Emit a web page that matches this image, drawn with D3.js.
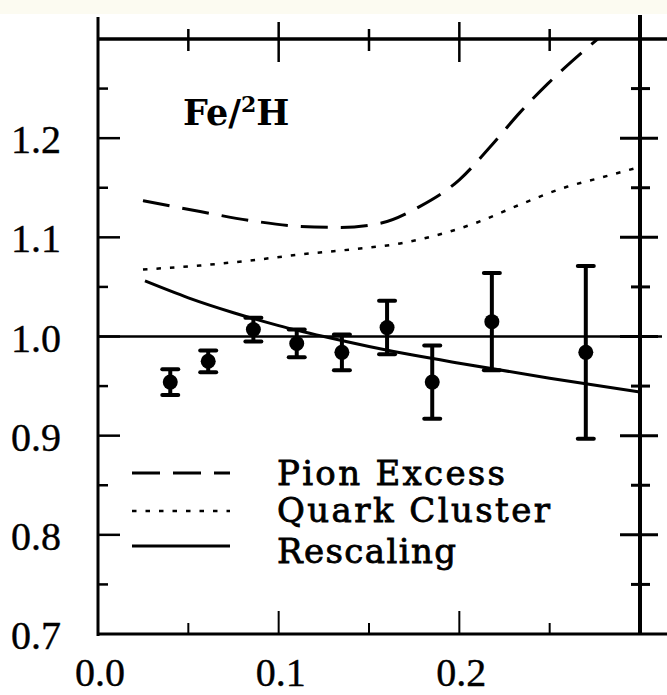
<!DOCTYPE html>
<html>
<head>
<meta charset="utf-8">
<script src="https://cdn.jsdelivr.net/npm/d3@7"></script>
<style>
  html, body { margin: 0; padding: 0; background: #ffffff; }
  svg { display: block; }
</style>
</head>
<body>
<svg id="chart" width="667" height="695"></svg>
<script>
// Fe/2H structure-function ratio versus x, with three model curves.

// Measured points
const xData  = [0.040, 0.061, 0.086, 0.110, 0.135, 0.160, 0.185, 0.218, 0.270];
const ratio  = [0.954, 0.975, 1.007, 0.993, 0.984, 1.009, 0.954, 1.015, 0.984];
const errBar = [0.013, 0.011, 0.012, 0.014, 0.018, 0.027, 0.037, 0.049, 0.087];

// Model curves
const pionX  = [0.0249, 0.0565, 0.0841, 0.1118, 0.134, 0.156, 0.178, 0.200, 0.217, 0.2336, 0.249, 0.2657, 0.2779];
const pionY  = [1.137, 1.126, 1.117, 1.111, 1.110, 1.114, 1.131, 1.158, 1.191, 1.226, 1.255, 1.283, 1.302];

const quarkX = [0.0249, 0.0565, 0.0841, 0.1118, 0.1395, 0.1672, 0.1948, 0.2098, 0.2336, 0.2596, 0.2779, 0.300];
const quarkY = [1.0676, 1.0716, 1.0766, 1.0827, 1.0877, 1.0938, 1.1059, 1.115, 1.133, 1.151, 1.160, 1.171];

const rescX  = [0.026, 0.050, 0.075, 0.100, 0.125, 0.150, 0.175, 0.200, 0.250, 0.300];
const rescY  = [1.056, 1.039, 1.024, 1.011, 1.000, 0.990, 0.981, 0.973, 0.958, 0.944];

// Axis ticks
const xMajor = [0.0, 0.1, 0.2];
const xLabels = ["0.0", "0.1", "0.2"];
const xMinor = [0.05, 0.15, 0.25];
const yMajor = [0.7, 0.8, 0.9, 1.0, 1.1, 1.2];
const yLabels = ["0.7", "0.8", "0.9", "1.0", "1.1", "1.2"];
const yMinor = [0.75, 0.85, 0.95, 1.05, 1.15, 1.25];

const legendNames = ["Pion Excess", "Quark Cluster", "Rescaling"];
const titleMain = ["Fe/", "2", "H"];

const svg = d3.select("#chart");
const x = d3.scaleLinear().domain([0, 0.3]).range([98, 640]);
const y = d3.scaleLinear().domain([0.7, 1.3]).range([634, 39]);

const ink = "#000000";
const serif = "'DejaVu Serif', serif";
const numFont = "'Liberation Serif', 'Times New Roman', serif";

// faint paper strip along the top edge
svg.append("rect").attr("x", 0).attr("y", 0).attr("width", 667).attr("height", 14)
   .attr("fill", "#fcfbf1");

svg.append("defs").append("clipPath").attr("id", "plotClip")
   .append("rect")
   .attr("x", x(0)).attr("y", y(1.3))
   .attr("width", x(0.3) - x(0)).attr("height", y(0.7) - y(1.3));

const frame = svg.append("g").attr("stroke", ink).attr("stroke-linecap", "butt");

// frame lines
frame.append("line").attr("x1", x(0)).attr("x2", 667).attr("y1", y(1.3)).attr("y2", y(1.3)).attr("stroke-width", 3.5);
frame.append("line").attr("x1", x(0) - 1).attr("x2", 667).attr("y1", y(0.7)).attr("y2", y(0.7)).attr("stroke-width", 3);
frame.append("line").attr("x1", x(0)).attr("x2", x(0)).attr("y1", 17).attr("y2", y(0.7) + 2).attr("stroke-width", 3);
frame.append("line").attr("x1", x(0.3)).attr("x2", x(0.3)).attr("y1", 15).attr("y2", y(0.7)).attr("stroke-width", 4);

// top ticks cross the axis, bottom ticks point inward
xMajor.filter(v => v > 0).forEach(v => {
  frame.append("line").attr("x1", x(v)).attr("x2", x(v)).attr("y1", y(1.3) - 17).attr("y2", y(1.3) + 23).attr("stroke-width", 2.5);
  frame.append("line").attr("x1", x(v)).attr("x2", x(v)).attr("y1", y(0.7)).attr("y2", y(0.7) - 23).attr("stroke-width", 2);
});
xMinor.forEach(v => {
  frame.append("line").attr("x1", x(v)).attr("x2", x(v)).attr("y1", y(1.3) - 10).attr("y2", y(1.3) + 12).attr("stroke-width", 2.5);
  frame.append("line").attr("x1", x(v)).attr("x2", x(v)).attr("y1", y(0.7)).attr("y2", y(0.7) - 11).attr("stroke-width", 2);
});

// left ticks point inward, right ticks cross the axis
yMajor.filter(v => v > 0.7).forEach(v => {
  frame.append("line").attr("x1", x(0)).attr("x2", x(0) + 22).attr("y1", y(v)).attr("y2", y(v)).attr("stroke-width", 2.5);
  frame.append("line").attr("x1", x(0.3) - 20).attr("x2", x(0.3) + 18).attr("y1", y(v)).attr("y2", y(v)).attr("stroke-width", 3);
});
yMinor.forEach(v => {
  frame.append("line").attr("x1", x(0)).attr("x2", x(0) + 10).attr("y1", y(v)).attr("y2", y(v)).attr("stroke-width", 2.5);
  frame.append("line").attr("x1", x(0.3) - 9).attr("x2", x(0.3) + 10).attr("y1", y(v)).attr("y2", y(v)).attr("stroke-width", 3);
});

// tick labels
svg.append("g").selectAll("text").data(xMajor).join("text")
   .attr("x", d => x(d) + 2).attr("y", 686)
   .attr("text-anchor", "middle")
   .attr("font-family", numFont).attr("font-size", 40).attr("fill", ink)
   .attr("stroke", ink).attr("stroke-width", 0.4)
   .text((d, i) => xLabels[i]);

svg.append("g").selectAll("text").data(yMajor).join("text")
   .attr("x", 61).attr("y", d => y(d) + 15)
   .attr("text-anchor", "end")
   .attr("font-family", numFont).attr("font-size", 40).attr("fill", ink)
   .attr("stroke", ink).attr("stroke-width", 0.4)
   .text((d, i) => yLabels[i]);

// reference line at unity, running out past the right axis
svg.append("line").attr("x1", x(0)).attr("x2", 662).attr("y1", y(1.0)).attr("y2", y(1.0))
   .attr("stroke", ink).attr("stroke-width", 2.5);

const plot = svg.append("g").attr("clip-path", "url(#plotClip)");
const curve = (xs, ys) => d3.line().curve(d3.curveMonotoneX)
   .x(i => x(xs[i])).y(i => y(ys[i]))(d3.range(xs.length));

plot.append("path").attr("d", curve(pionX, pionY))
   .attr("fill", "none").attr("stroke", ink).attr("stroke-width", 3)
   .attr("stroke-dasharray", "27,13");
plot.append("path").attr("d", curve(quarkX, quarkY))
   .attr("fill", "none").attr("stroke", ink).attr("stroke-width", 2.5)
   .attr("stroke-dasharray", "4.5,9");
plot.append("path").attr("d", curve(rescX, rescY))
   .attr("fill", "none").attr("stroke", ink).attr("stroke-width", 3);

// data points with error bars
const pts = svg.append("g").selectAll("g").data(d3.range(xData.length)).join("g");
pts.append("line")
   .attr("x1", i => x(xData[i])).attr("x2", i => x(xData[i]))
   .attr("y1", i => y(ratio[i] + errBar[i])).attr("y2", i => y(ratio[i] - errBar[i]))
   .attr("stroke", ink).attr("stroke-width", 4);
[1, -1].forEach(s => {
  pts.append("line")
     .attr("x1", i => x(xData[i]) - 8).attr("x2", i => x(xData[i]) + 8)
     .attr("y1", i => y(ratio[i] + s * errBar[i])).attr("y2", i => y(ratio[i] + s * errBar[i]))
     .attr("stroke", ink).attr("stroke-width", 4).attr("stroke-linecap", "round");
});
pts.append("circle")
   .attr("cx", i => x(xData[i])).attr("cy", i => y(ratio[i]))
   .attr("r", 7.5).attr("fill", ink);

// label in upper left
const title = svg.append("text").attr("x", 183).attr("y", 125)
   .attr("font-family", serif).attr("font-size", 35).attr("font-weight", "bold").attr("fill", ink);
title.append("tspan").text(titleMain[0]);
title.append("tspan").attr("font-size", 22).attr("dy", -13).text(titleMain[1]);
title.append("tspan").attr("dy", 13).text(titleMain[2]);

// legend
const legY = [473, 511, 546];
const legBase = [485, 522, 563];
const legLen = [228, 273, 179];
const legDash = ["28,13", "4.5,9", null];
const legW = [3, 2.5, 3];
legendNames.forEach((name, i) => {
  const ln = svg.append("line").attr("x1", 132).attr("x2", 230)
     .attr("y1", legY[i]).attr("y2", legY[i])
     .attr("stroke", ink).attr("stroke-width", legW[i]);
  if (legDash[i]) ln.attr("stroke-dasharray", legDash[i]);
  svg.append("text").attr("x", 277).attr("y", legBase[i])
     .attr("font-family", serif).attr("font-size", 34).attr("fill", ink)
     .attr("stroke", ink).attr("stroke-width", 0.8)
     .attr("textLength", legLen[i]).attr("lengthAdjust", "spacing")
     .text(name);
});
</script>
</body>
</html>
